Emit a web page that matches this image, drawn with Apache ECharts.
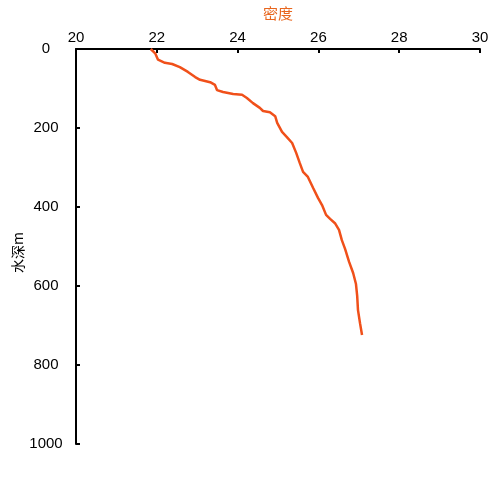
<!DOCTYPE html>
<html>
<head>
<meta charset="utf-8">
<script src="https://cdn.jsdelivr.net/npm/echarts@6/dist/echarts.min.js"></script>
<style>html,body{margin:0;padding:0;background:#fff}#c{width:500px;height:500px}</style>
</head>
<body>
<div id="c"></div>
<script>
var density = [21.85,21.96,22.03,22.20,22.38,22.57,22.77,22.95,23.07,23.32,23.44,23.49,23.64,23.89,24.11,24.23,24.38,24.55,24.63,24.80,24.93,24.98,25.10,25.22,25.35,25.45,25.54,25.62,25.74,25.87,25.99,26.09,26.19,26.29,26.41,26.51,26.58,26.66,26.76,26.86,26.93,26.96,26.98,27.03,27.08];
var depth   = [0,11,27,35,38,46,58,71,78,84,91,104,109,114,116,124,137,149,157,160,170,187,210,223,238,263,289,311,324,352,377,395,420,430,441,458,484,506,539,567,595,625,661,694,724];
var xTicks = [20,22,24,26,28,30];
var yTicks = [0,200,400,600,800,1000];

var pts = density.map(function(v,i){return [v, depth[i]];});
var font = 'Liberation Sans, Arial, sans-serif';
var chart = echarts.init(document.getElementById('c'));
chart.setOption({
  animation:false,
  backgroundColor:'#fff',
  grid:{left:76,right:20,top:49,bottom:56,containLabel:false,outerBoundsMode:'none'},
  xAxis:{
    type:'value', position:'top', min:xTicks[0], max:xTicks[xTicks.length-1], interval:2,
    name:'密度', nameLocation:'middle', nameGap:28, nameMoveOverlap:false,
    nameTextStyle:{color:'#E8661E',fontSize:15,fontFamily:'Noto Sans CJK SC'},
    axisLine:{show:true,onZero:false,lineStyle:{color:'#000',width:2}},
    axisTick:{show:true,inside:true,length:4,lineStyle:{color:'#000',width:2}},
    axisLabel:{color:'#000',fontSize:15,fontFamily:font,margin:4,formatter:function(v){return String(v);}},
    splitLine:{show:false}
  },
  yAxis:{
    type:'value', inverse:true, min:yTicks[0], max:yTicks[yTicks.length-1], interval:200,
    name:'水深m', nameLocation:'middle', nameGap:51, nameRotate:90, nameMoveOverlap:false,
    nameTextStyle:{color:'#000',fontSize:14,fontFamily:'Noto Sans CJK SC',padding:[0,12,0,0]},
    axisLine:{show:true,onZero:false,lineStyle:{color:'#000',width:2}},
    axisTick:{show:true,inside:true,length:4,lineStyle:{color:'#000',width:2}},
    axisLabel:{color:'#000',fontSize:15,fontFamily:font,margin:30,align:'center',formatter:function(v){return String(v);}},
    splitLine:{show:false}
  },
  series:[{
    type:'line', data:pts, showSymbol:false, symbol:'none',
    lineStyle:{color:'#F0501A',width:2.5}
  }]
});
</script>
</body>
</html>
